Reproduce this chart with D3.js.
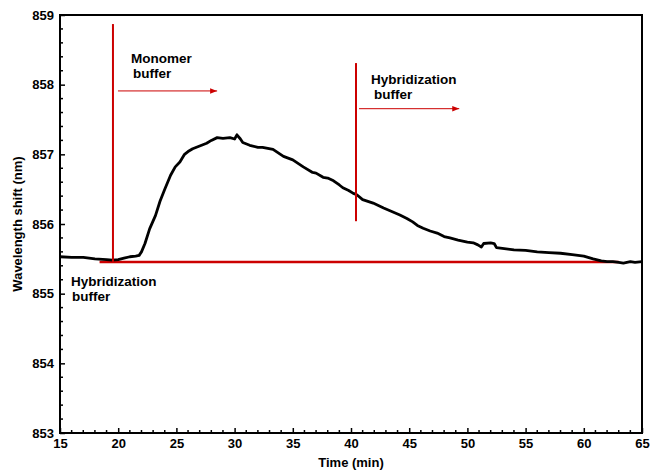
<!DOCTYPE html>
<html><head><meta charset="utf-8">
<script src="https://cdn.jsdelivr.net/npm/d3@7"></script>
<style>body{margin:0;background:#fff}svg{display:block}text{font-family:"Liberation Sans",Arial,sans-serif;font-weight:bold}</style>
</head><body>
<svg id="c" width="650" height="470"></svg>
<script>
const timeMin = [15.0,16.0,17.0,18.0,19.0,19.5,20.0,20.5,21.0,21.5,21.8,22.0,22.3,22.7,23.2,23.6,24.0,24.5,24.9,25.3,25.7,26.0,26.4,27.0,27.6,28.0,28.5,29.0,29.6,30.0,30.2,30.5,30.7,31.3,32.0,32.4,33.3,34.2,35.0,35.9,36.7,37.0,37.6,38.0,38.5,39.0,39.3,39.8,40.2,40.5,41.0,41.9,42.8,43.5,44.2,44.8,45.3,45.7,46.2,46.8,47.4,48.0,48.5,49.2,50.0,50.5,50.9,51.2,51.4,52.0,52.3,52.5,53.0,54.0,55.0,56.0,57.0,58.0,59.0,60.0,60.8,61.5,62.0,62.5,63.0,63.4,64.0,64.4,65.0];
const shiftNm = [855.53,855.52,855.52,855.50,855.49,855.48,855.49,855.51,855.53,855.54,855.55,855.60,855.72,855.93,856.12,856.33,856.50,856.70,856.82,856.89,857.00,857.04,857.08,857.12,857.16,857.20,857.24,857.23,857.24,857.22,857.28,857.22,857.17,857.13,857.10,857.10,857.07,856.97,856.92,856.82,856.74,856.73,856.67,856.66,856.62,856.56,856.52,856.48,856.44,856.42,856.35,856.30,856.23,856.18,856.13,856.08,856.03,855.98,855.94,855.90,855.87,855.82,855.80,855.77,855.74,855.73,855.70,855.67,855.72,855.73,855.72,855.66,855.65,855.63,855.62,855.60,855.59,855.58,855.56,855.54,855.50,855.47,855.46,855.46,855.45,855.44,855.46,855.45,855.46];
const xTicks = [15,20,25,30,35,40,45,50,55,60,65];
const yTicks = [853,854,855,856,857,858,859];
const baselineLevel = 855.455;
const baselineSpan = [18.4, 63.0];
const markers = [
  {t:19.55, top:858.87, bottom:855.455, arrowFrom:19.98, arrowTo:28.5, arrowY:857.91, label:["Monomer","buffer"]},
  {t:40.43, top:858.31, bottom:856.04, arrowFrom:40.69, arrowTo:49.3, arrowY:857.655, label:["Hybridization","buffer"]}
];
const startLabel = ["Hybridization","buffer"];

const svg = d3.select("#c");
const m = {l:60, r:642, t:15, b:433};
const x = d3.scaleLinear().domain([15,65]).range([m.l,m.r]);
const y = d3.scaleLinear().domain([853,859]).range([m.b,m.t]);
const red = "#cc0000";

// minor ticks
const g = svg.append("g");
const minorX = d3.range(15,65.001,1).filter(v=>v%5!==0);
const minorY = d3.range(853,859.001,0.2).filter(v=>Math.abs(v-Math.round(v))>0.01);
g.selectAll(".mx").data(minorX).join("line").attr("x1",d=>x(d)).attr("x2",d=>x(d)).attr("y1",m.b).attr("y2",m.b-3).attr("stroke","#000").attr("stroke-width",1.5);
g.selectAll(".my").data(minorY).join("line").attr("y1",d=>y(d)).attr("y2",d=>y(d)).attr("x1",m.l).attr("x2",m.l+3).attr("stroke","#000").attr("stroke-width",1.5);

const xAxis = d3.axisBottom(x).tickValues(xTicks).tickFormat(d3.format("d")).tickSizeInner(-5).tickSizeOuter(0).tickPadding(10);
const yAxis = d3.axisLeft(y).tickValues(yTicks).tickFormat(d3.format("d")).tickSizeInner(-5).tickSizeOuter(0).tickPadding(10);
const gx = svg.append("g").attr("transform",`translate(0,${m.b})`).call(xAxis);
const gy = svg.append("g").attr("transform",`translate(${m.l},0)`).call(yAxis);
[gx,gy].forEach(a=>{a.select(".domain").remove();a.selectAll(".tick line").attr("stroke","#000").attr("stroke-width",1.5);a.selectAll("text").attr("font-size",13).attr("font-weight","bold").attr("fill","#000").attr("font-family","Liberation Sans, Arial, sans-serif");});
gx.selectAll("text").attr("dy","0.71em").attr("y",6);
gy.selectAll("text").attr("x",-6);

// frame
svg.append("rect").attr("x",m.l).attr("y",m.t).attr("width",m.r-m.l).attr("height",m.b-m.t).attr("fill","none").attr("stroke","#000").attr("stroke-width",2);

// red baseline
svg.append("line").attr("x1",x(baselineSpan[0])).attr("x2",x(baselineSpan[1])).attr("y1",y(baselineLevel)).attr("y2",y(baselineLevel)).attr("stroke",red).attr("stroke-width",2.5);

// data line
svg.append("path").datum(timeMin.map((t,i)=>[t,shiftNm[i]]))
  .attr("d",d3.line().x(d=>x(d[0])).y(d=>y(d[1])))
  .attr("fill","none").attr("stroke","#000").attr("stroke-width",2.8).attr("stroke-linejoin","round");

// markers
svg.append("defs").append("marker").attr("id","ah").attr("viewBox","0 0 10 10").attr("refX",10).attr("refY",5)
  .attr("markerWidth",7).attr("markerHeight",7).attr("markerUnits","userSpaceOnUse").attr("orient","auto")
  .append("path").attr("d","M0,1L10,5L0,9Z").attr("fill",red);
const lblPos = [{dx:18, y1:62.5, y2:78, dx2:20},{dx:15, y1:83.5, y2:98.5, dx2:18}];
markers.forEach((mk,i)=>{
  svg.append("line").attr("x1",x(mk.t)).attr("x2",x(mk.t)).attr("y1",y(mk.top)).attr("y2",y(mk.bottom)).attr("stroke",red).attr("stroke-width",2);
  svg.append("line").attr("x1",x(mk.arrowFrom)).attr("x2",x(mk.arrowTo)).attr("y1",y(mk.arrowY)).attr("y2",y(mk.arrowY)).attr("stroke",red).attr("stroke-width",1).attr("marker-end","url(#ah)");
  svg.append("text").attr("x",x(mk.t)+lblPos[i].dx).attr("y",lblPos[i].y1).attr("font-size",13.5).text(mk.label[0]);
  svg.append("text").attr("x",x(mk.t)+lblPos[i].dx2).attr("y",lblPos[i].y2).attr("font-size",13.5).text(mk.label[1]);
});
svg.append("text").attr("x",71).attr("y",286).attr("font-size",13.5).text(startLabel[0]);
svg.append("text").attr("x",72).attr("y",301).attr("font-size",13.5).text(startLabel[1]);

// axis titles
svg.append("text").attr("x",(m.l+m.r)/2).attr("y",467).attr("text-anchor","middle").attr("font-size",13).text("Time (min)");
svg.append("text").attr("transform",`translate(22,${(m.t+m.b)/2}) rotate(-90)`).attr("text-anchor","middle").attr("font-size",13).text("Wavelength shift (nm)");
</script>
</body></html>
